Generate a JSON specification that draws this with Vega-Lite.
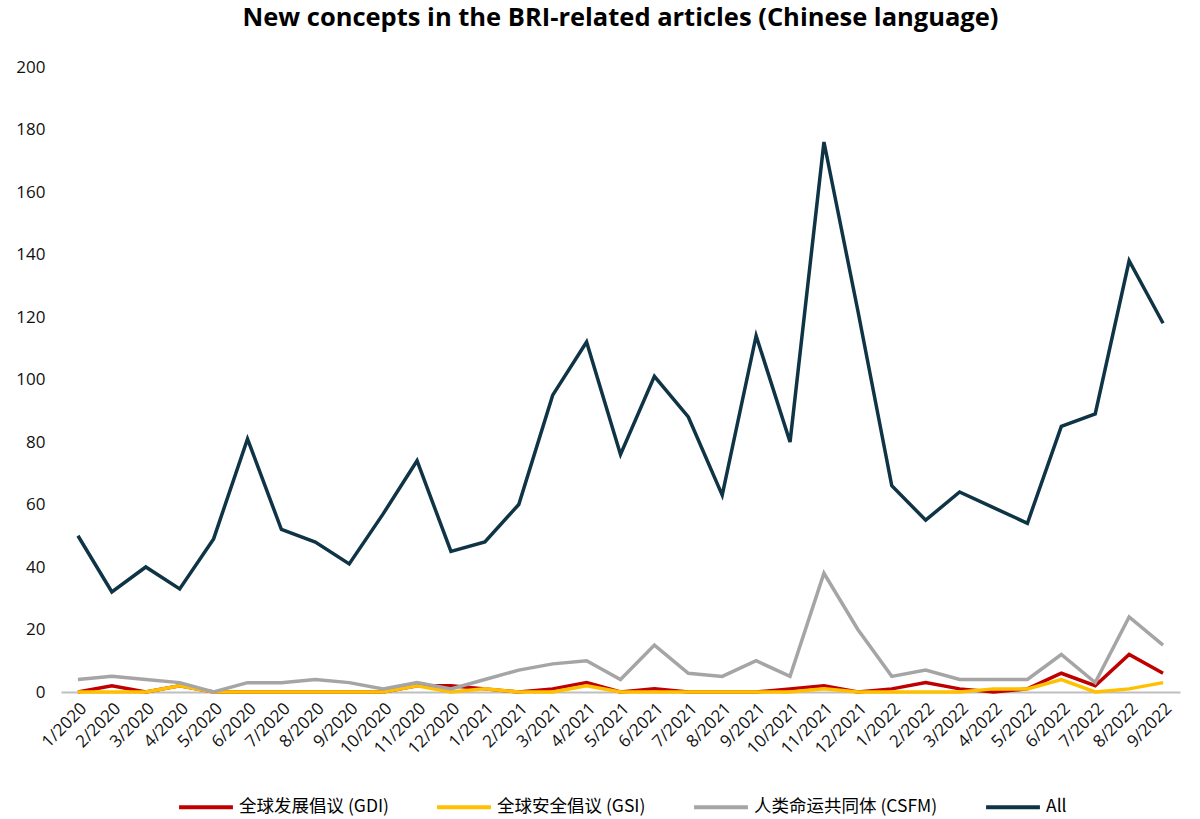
{
  "$schema": "https://vega.github.io/schema/vega-lite/v6.json",
  "width": 1119,
  "height": 625,
  "autosize": {"type": "none"},
  "padding": {"left": 61, "top": 67, "right": 20, "bottom": 127},
  "background": "white",
  "config": {"view": {"stroke": null}},
  "title": {
    "text": "New concepts in the BRI-related articles (Chinese language)",
    "font": "Open Sans",
    "fontSize": 25.5,
    "fontWeight": "bold",
    "color": "#000000",
    "anchor": "middle",
    "offset": 27
  },
  "data": {
    "values": [
      {"m": "1/2020", "GDI": 0, "GSI": 0, "CSFM": 4, "All": 50},
      {"m": "2/2020", "GDI": 2, "GSI": 0, "CSFM": 5, "All": 32},
      {"m": "3/2020", "GDI": 0, "GSI": 0, "CSFM": 4, "All": 40},
      {"m": "4/2020", "GDI": 2, "GSI": 2, "CSFM": 3, "All": 33},
      {"m": "5/2020", "GDI": 0, "GSI": 0, "CSFM": 0, "All": 49},
      {"m": "6/2020", "GDI": 0, "GSI": 0, "CSFM": 3, "All": 81},
      {"m": "7/2020", "GDI": 0, "GSI": 0, "CSFM": 3, "All": 52},
      {"m": "8/2020", "GDI": 0, "GSI": 0, "CSFM": 4, "All": 48},
      {"m": "9/2020", "GDI": 0, "GSI": 0, "CSFM": 3, "All": 41},
      {"m": "10/2020", "GDI": 0, "GSI": 0, "CSFM": 1, "All": 57},
      {"m": "11/2020", "GDI": 2, "GSI": 2, "CSFM": 3, "All": 74},
      {"m": "12/2020", "GDI": 2, "GSI": 0, "CSFM": 1, "All": 45},
      {"m": "1/2021", "GDI": 1, "GSI": 1, "CSFM": 4, "All": 48},
      {"m": "2/2021", "GDI": 0, "GSI": 0, "CSFM": 7, "All": 60},
      {"m": "3/2021", "GDI": 1, "GSI": 0, "CSFM": 9, "All": 95},
      {"m": "4/2021", "GDI": 3, "GSI": 2, "CSFM": 10, "All": 112},
      {"m": "5/2021", "GDI": 0, "GSI": 0, "CSFM": 4, "All": 76},
      {"m": "6/2021", "GDI": 1, "GSI": 0, "CSFM": 15, "All": 101},
      {"m": "7/2021", "GDI": 0, "GSI": 0, "CSFM": 6, "All": 88},
      {"m": "8/2021", "GDI": 0, "GSI": 0, "CSFM": 5, "All": 63},
      {"m": "9/2021", "GDI": 0, "GSI": 0, "CSFM": 10, "All": 114},
      {"m": "10/2021", "GDI": 1, "GSI": 0, "CSFM": 5, "All": 80},
      {"m": "11/2021", "GDI": 2, "GSI": 1, "CSFM": 38, "All": 176},
      {"m": "12/2021", "GDI": 0, "GSI": 0, "CSFM": 20, "All": 122},
      {"m": "1/2022", "GDI": 1, "GSI": 0, "CSFM": 5, "All": 66},
      {"m": "2/2022", "GDI": 3, "GSI": 0, "CSFM": 7, "All": 55},
      {"m": "3/2022", "GDI": 1, "GSI": 0, "CSFM": 4, "All": 64},
      {"m": "4/2022", "GDI": 0, "GSI": 1, "CSFM": 4, "All": 59},
      {"m": "5/2022", "GDI": 1, "GSI": 1, "CSFM": 4, "All": 54},
      {"m": "6/2022", "GDI": 6, "GSI": 4, "CSFM": 12, "All": 85},
      {"m": "7/2022", "GDI": 2, "GSI": 0, "CSFM": 3, "All": 89},
      {"m": "8/2022", "GDI": 12, "GSI": 1, "CSFM": 24, "All": 138},
      {"m": "9/2022", "GDI": 6, "GSI": 3, "CSFM": 15, "All": 118}
    ]
  },
  "transform": [{"fold": ["GDI", "GSI", "CSFM", "All"], "as": ["series", "value"]}],
  "mark": {"type": "line", "strokeWidth": 3.5},
  "encoding": {
    "x": {
      "field": "m",
      "type": "ordinal",
      "sort": null,
      "scale": {"type": "point", "padding": 0.5},
      "axis": {
        "title": null,
        "labelAngle": -45,
        "labelFont": "Open Sans",
        "labelFontSize": 17,
        "labelColor": "#111111",
        "ticks": false,
        "domainColor": "#bfbfbf",
        "domainWidth": 2,
        "labelPadding": 8
      }
    },
    "y": {
      "field": "value",
      "type": "quantitative",
      "scale": {"domain": [0, 200], "nice": false},
      "axis": {
        "title": null,
        "values": [0, 20, 40, 60, 80, 100, 120, 140, 160, 180, 200],
        "grid": false,
        "domain": false,
        "ticks": false,
        "labelFont": "Open Sans",
        "labelFontSize": 17,
        "labelColor": "#111111",
        "labelPadding": 16
      }
    },
    "color": {
      "field": "series",
      "type": "nominal",
      "scale": {
        "domain": ["GDI", "GSI", "CSFM", "All"],
        "range": ["#c00000", "#ffc000", "#a5a5a5", "#0e3446"]
      },
      "legend": {
        "title": null,
        "orient": "none",
        "legendX": 116,
        "legendY": 711,
        "direction": "horizontal",
        "symbolType": "stroke",
        "symbolSize": 2900,
        "symbolStrokeWidth": 4,
        "labelFont": "Noto Sans CJK SC",
        "labelFontSize": 17.5,
        "labelColor": "#000000",
        "labelOffset": 4,
        "columnPadding": 40,
        "labelLimit": 400,
        "labelExpr": "datum.label == 'GDI' ? '全球发展倡议 (GDI)' : datum.label == 'GSI' ? '全球安全倡议 (GSI)' : datum.label == 'CSFM' ? '人类命运共同体 (CSFM)' : 'All'"
      }
    }
  }
}
